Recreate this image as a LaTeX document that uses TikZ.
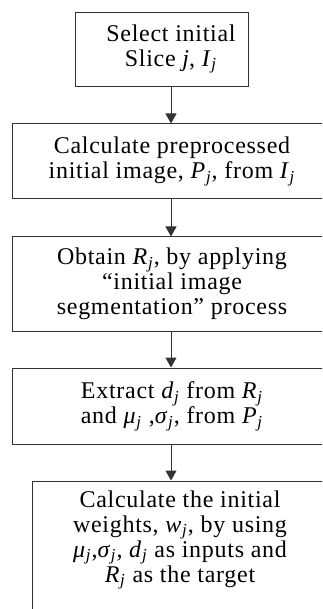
\documentclass[tikz,border=0pt]{standalone}
\usepackage{fontspec}
\setmainfont{Liberation Serif}[LetterSpace=3]
\usetikzlibrary{arrows.meta}
\newcommand\sbj[2]{\textit{#1}\textsubscript{\textit{#2}}}
\begin{document}
\begin{tikzpicture}[x=1pt,y=-1pt,
  box/.style={draw=black!80,line width=1pt,rectangle,inner sep=0pt},
  txt/.style={align=center,font=\fontsize{24}{25}\selectfont,inner sep=0pt},
  arr/.style={draw=black!80,line width=1pt,-{Triangle[width=11pt,length=10pt]}}]
\useasboundingbox (0,0) rectangle (322,609);
\clip (0,0) rectangle (322,609);
\node[box,minimum width=173,minimum height=74] (b1) at (161.5,50) {};
\node[txt] (t1) at (171,49) {Select initial\\Slice \textit{j}, \sbj{I}{j}};
\node[box,txt,minimum width=320,minimum height=75] (b2) at (172,161.5) {Calculate preprocessed\\initial image, \sbj{P}{j}, from \sbj{I}{j}};
\node[box,txt,minimum width=320,minimum height=94] (b3) at (172,284) {Obtain \sbj{R}{j}, by applying\\“initial image\\segmentation” process};
\node[box,txt,minimum width=320,minimum height=76] (b4) at (172,406) {Extract \sbj{d}{j} from \sbj{R}{j}\\and \sbj{μ}{j} ,\sbj{σ}{j}, from \sbj{P}{j}};
\node[box,minimum width=296,minimum height=160] (b5) at (180,561) {};
\node[txt] (t5) at (180,540) {Calculate the initial\\weights, \sbj{w}{j}, by using\\\sbj{μ}{j},\sbj{σ}{j}, \sbj{d}{j} as inputs and\\\sbj{R}{j} as the target};
\draw[arr] (t1 |- b1.south) -- (t1 |- b2.north);
\draw[arr] (t1 |- b2.south) -- (t1 |- b3.north);
\draw[arr] (t1 |- b3.south) -- (t1 |- b4.north);
\draw[arr] (t1 |- b4.south) -- (t1 |- b5.north);
\end{tikzpicture}
\end{document}
